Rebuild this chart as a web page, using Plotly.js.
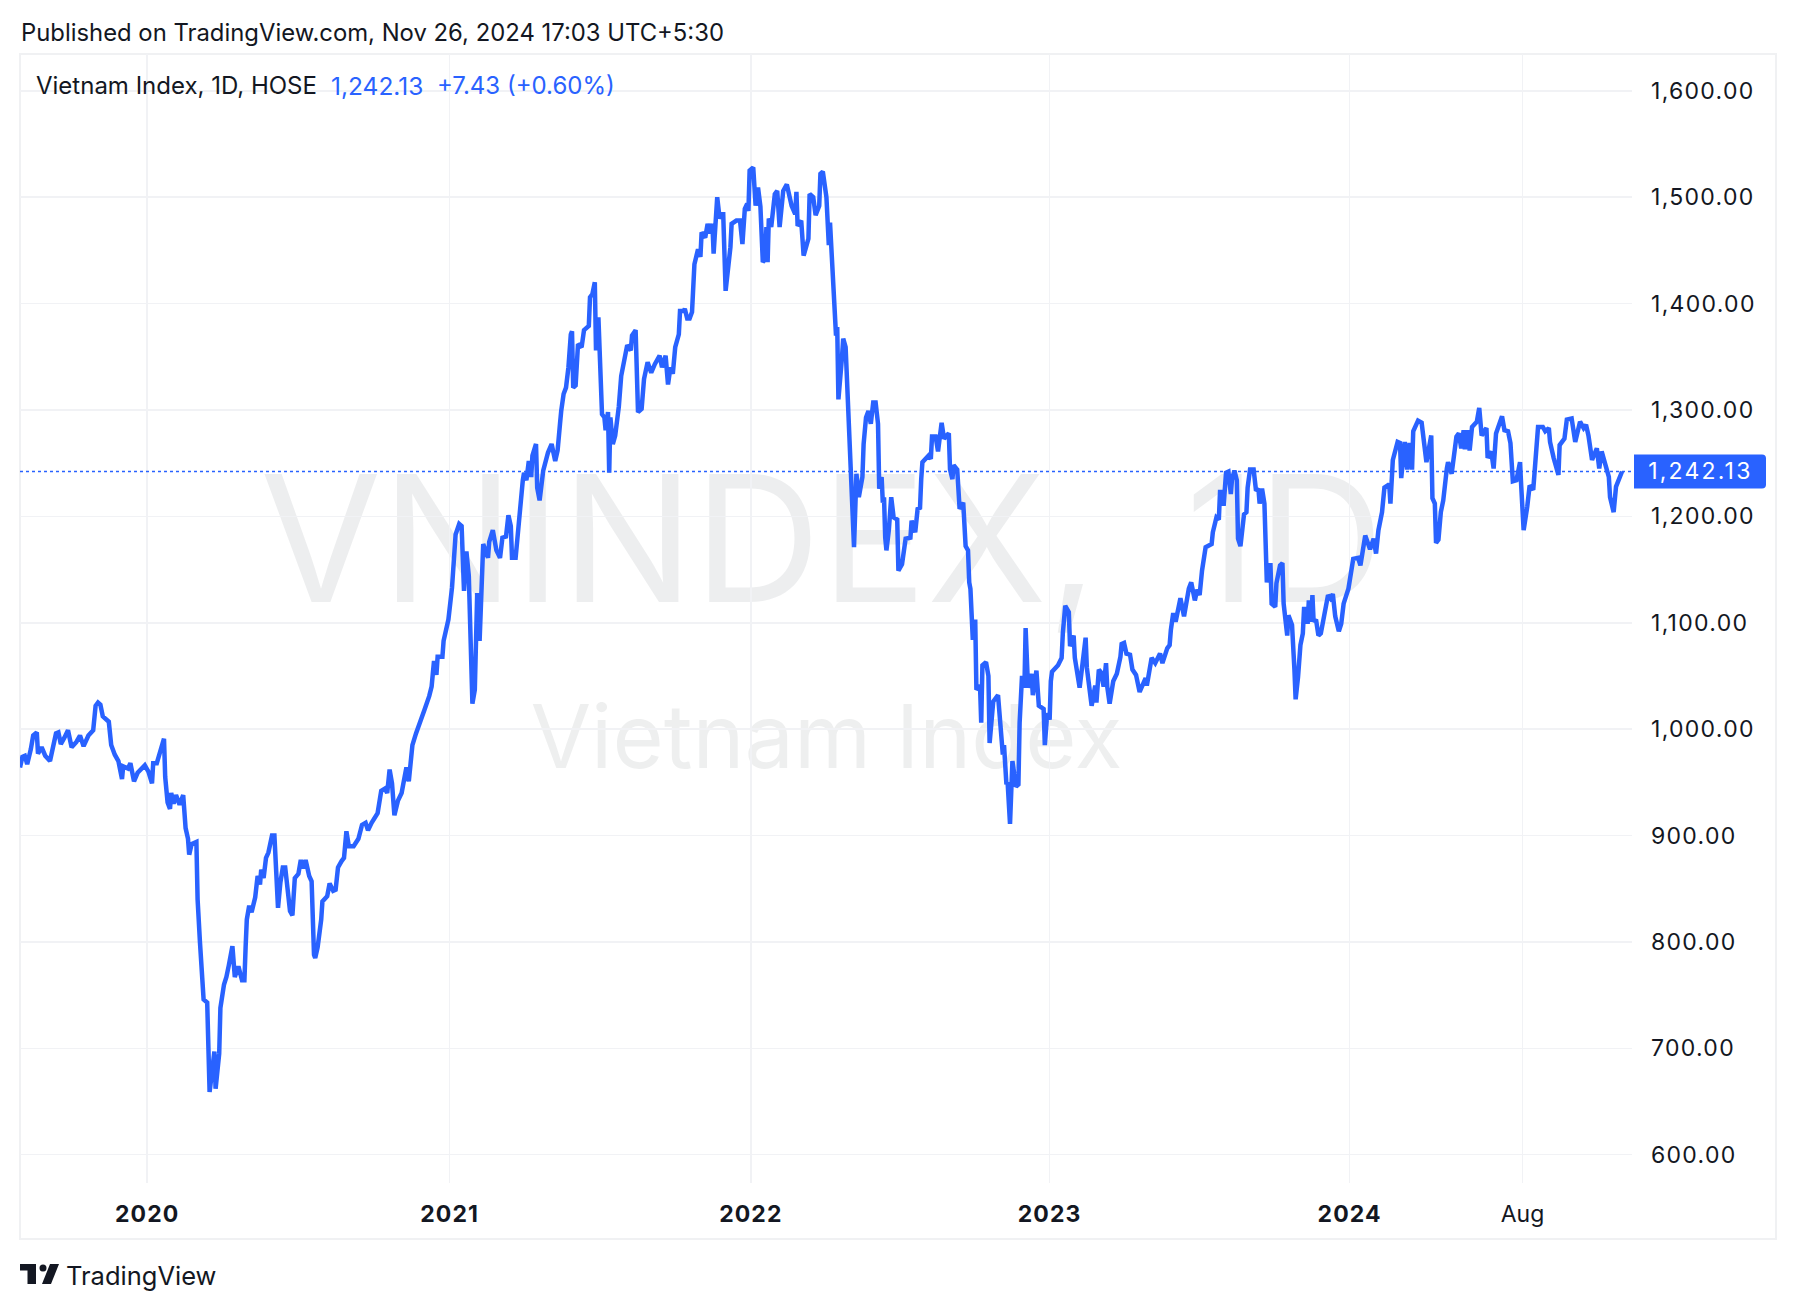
<!DOCTYPE html>
<html>
<head>
<meta charset="utf-8">
<script src="https://cdn.plot.ly/plotly-3.0.0.min.js"></script>
<style>
html,body{margin:0;padding:0;background:#fff}
#chart{width:1796px;height:1310px}
.ytick text{letter-spacing:1.3px}
.xtick tspan{letter-spacing:1.1px}
.annotation[data-index="4"] text{letter-spacing:2.2px}
</style>
</head>
<body>
<div id="chart"></div>
<script>
// Session number (trading day count from the left edge) and closing value of the Vietnam Index
const sessions2019 = [0,2,4,6,9,11,14,15,18,21,25,27,30,32,34,37,40,43,47,50,53,57,61,63,65,67,69,74,76,79,82,85,86,90,92,95,98,104];
const closes2019 = [964,974,975,967,981,994,997,977,983,975,970,981,996,997,986,992,999,983,988,994,984,994,999,1022,1025,1023,1012,1007,985,976,970,953,965,963,968,951,959,966];
const sessions2020 = [
107,110,111,114,116,118,120,121,123,125,
126,128,130,133,136,138,140,141,143,147,
148,150,152,153,156,157,158,162,163,166,
167,170,172,174,177,179,182,185,187,188,
189,191,193,196,198,200,201,203,205,207,
210,212,214,215,217,219,221,223,225,227,
229,232,234,236,238,241,243,245,246,248,
251,252,256,258,261,263,265,268,270,272,
274,278,282,285,288,290,293,298,301,304,
306,308,310,312,315,318,320,322,324,326,
327,330,332,334,337,341,343,345,347,348,
352,353,356,357];
const closes2020 = [
960,949,968,968,977,983,991,955,931,925,
940,930,938,929,938,907,897,882,892,894,
840,799,758,746,743,702,659,697,662,695,
738,760,767,778,796,767,777,764,764,795,
821,834,828,842,862,854,868,860,879,884,
900,900,862,832,856,870,870,849,829,825,
860,864,877,869,877,862,857,788,785,795,
821,838,843,855,848,849,870,876,879,904,
890,890,897,910,912,905,912,921,942,944,
940,962,949,919,933,940,951,964,951,973,
985,996,1003,1009,1018,1031,1040,1064,1051,1068,
1068,1083,1098,1103];
const sessions2021 = [
360,361,363,366,368,370,372,374,375,377,
379,380,381,383,385,386,390,391,394,397,
400,402,405,407,409,410,413,415,417,419,
420,422,424,426,427,430,431,433,436,438,
440,443,446,448,449,450,451,453,455,456,
457,459,460,461,463,465,468,470,474,475,
477,479,480,482,483,485,487,488,490,491,
492,494,496,499,501,503,506,509,510,513,
515,518,520,523,526,529,533,535,538,540,
542,544,546,549,550,553,554,556,558,560,
562,565,567,568,571,573,575,577,578,581,
583,585,586,588,592,593,597,600,602,604,
606,607];
const closes2021 = [
1133,1157,1183,1193,1191,1130,1167,1144,1092,1024,
1037,1111,1128,1083,1148,1174,1161,1176,1187,1168,
1161,1180,1181,1201,1191,1161,1161,1187,1218,1234,
1241,1234,1252,1237,1257,1268,1227,1215,1243,1254,
1260,1268,1252,1262,1281,1287,1299,1315,1321,1329,
1340,1371,1374,1321,1323,1362,1359,1375,1379,1406,
1409,1420,1356,1387,1356,1296,1293,1281,1298,1241,
1293,1268,1276,1303,1332,1343,1361,1356,1370,1375,
1298,1301,1329,1345,1335,1343,1351,1340,1351,1324,
1340,1334,1359,1371,1393,1393,1395,1386,1386,1392,
1437,1451,1444,1467,1462,1475,1466,1475,1447,1500,
1480,1484,1484,1412,1453,1475,1478,1478,1456,1489,
1494,1487];
const sessions2022 = [
608,611,613,615,617,619,621,622,623,624,
626,629,631,633,636,639,643,646,647,648,
651,653,657,658,661,663,666,667,669,672,
674,675,677,679,680,681,682,685,686,688,
690,691,692,693,695,697,699,702,703,705,
707,709,711,713,715,716,718,719,720,721,
722,724,726,728,731,732,735,738,742,743,
746,748,750,751,752,757,759,760,763,765,
768,770,774,775,777,778,781,783,786,788,
790,791,792,794,796,797,800,801,802,805,
807,808,811,815,819,820,822,823,825,827,
830,832,833,835,837,838,840,843,844,847,
849,853,854,856];
const closes2022 = [
1525,1528,1492,1509,1491,1439,1442,1472,1439,1480,
1472,1503,1506,1472,1506,1512,1492,1484,1505,1473,
1478,1445,1461,1503,1500,1483,1492,1522,1524,1500,
1455,1476,1437,1400,1370,1378,1310,1350,1367,1359,
1303,1270,1268,1240,1171,1240,1218,1237,1268,1293,
1299,1287,1307,1307,1287,1226,1237,1213,1218,1180,
1168,1187,1218,1199,1197,1149,1155,1179,1180,1196,
1185,1207,1208,1235,1251,1257,1254,1275,1275,1261,
1288,1273,1278,1244,1235,1248,1244,1207,1213,1172,
1168,1138,1132,1084,1103,1037,1041,1006,1060,1063,
1050,987,1026,1032,976,985,948,950,911,970,
946,948,1006,1050,1039,1095,1039,1052,1032,1055,
1022,1019,985,1015];
const sessions2023 = [
858,859,860,865,868,869,871,874,875,878,
879,883,888,889,893,896,897,899,901,903,
905,906,908,911,914,917,918,920,922,925,
927,930,933,938,939,943,946,950,952,956,
958,959,961,963,967,970,974,976,979,981,
983,985,988,993,994,997,999,1000,1001,1003,
1005,1007,1009,1010,1012,1014,1015,1017,1020,1022,
1023,1025,1028,1030,1032,1033,1035,1037,1038,1039,
1042,1043,1046,1047,1050,1052,1053,1056,1057,1060,
1062,1063,1065,1067,1069,1070,1072,1073,1074,1076,
1077,1078,1080,1082,1084,1086,1088,1090,1092,1094,
1096,1099,1101,1103,1107];
const closes2023 = [
1009,1045,1054,1060,1067,1090,1116,1110,1078,1088,
1067,1039,1086,1058,1022,1041,1025,1056,1053,1040,
1062,1040,1024,1045,1052,1068,1080,1081,1071,1070,
1056,1051,1035,1048,1041,1067,1062,1071,1062,1076,
1079,1093,1109,1101,1123,1106,1132,1138,1121,1131,
1126,1149,1171,1174,1185,1199,1197,1223,1223,1210,
1241,1242,1221,1235,1243,1234,1179,1172,1202,1204,
1227,1244,1244,1224,1226,1212,1226,1212,1165,1138,
1156,1118,1115,1137,1154,1156,1118,1088,1107,1098,
1056,1028,1049,1079,1090,1113,1113,1099,1121,1101,
1126,1101,1103,1088,1090,1102,1115,1126,1123,1127,
1106,1092,1099,1118,1132];
const sessions2024 = [
1110,1111,1115,1117,1121,1125,1128,1130,1132,1135,
1137,1141,1142,1144,1148,1150,1151,1154,1156,1158,
1160,1161,1165,1168,1172,1174,1176,1177,1179,1180,
1182,1184,1186,1189,1190,1193,1197,1199,1201,1203,
1204,1206,1208,1210,1214,1216,1218,1222,1223,1226,
1228,1230,1235,1237,1240,1242,1244,1247,1250,1251,
1253,1256,1258,1261,1264,1265,1269,1271,1274,1275,
1278,1282,1283,1287,1289,1293,1296,1300,1303,1305,
1307,1310,1314,1316,1318,1321,1324,1325,1328,1330,1335];
const closes2024 = [
1150,1160,1161,1154,1182,1169,1179,1165,1187,1204,
1227,1230,1212,1253,1270,1269,1236,1270,1244,1269,
1244,1280,1290,1288,1251,1262,1276,1217,1212,1175,
1178,1204,1215,1245,1251,1240,1275,1278,1264,1281,
1263,1281,1262,1284,1289,1302,1276,1283,1255,1261,
1245,1278,1294,1281,1280,1269,1233,1234,1251,1228,
1187,1209,1229,1225,1281,1284,1284,1280,1283,1270,
1255,1239,1267,1273,1291,1292,1270,1289,1283,1286,
1276,1253,1264,1245,1261,1248,1237,1218,1204,1228,1242.13];

const tickSessions = [106,358,609,858,1108,1252];
const tickLabels = ['<b>2020</b>','<b>2021</b>','<b>2022</b>','<b>2023</b>','<b>2024</b>','Aug'];
const priceTicks = [600,700,800,900,1000,1100,1200,1300,1400,1500,1600];
const lastClose = 1242.13;
const lastCloseLabel = '1,242.13';
const changeLabel = '+7.43 (+0.60%)';

const sessions = [].concat(sessions2019,sessions2020,sessions2021,sessions2022,sessions2023,sessions2024);
const closes = [].concat(closes2019,closes2020,closes2021,closes2022,closes2023,closes2024);

const FONT = 'Inter, "Noto Sans", sans-serif';
const INK = '#131722', BLUE = '#2962ff', GRID = '#f1f2f5', FRAME = '#f0f1f3';
const L = 20, R = 1632, T = 54, B = 1183;
const px = v => (v - L) / (R - L);
const py = v => 1 - (v - T) / (B - T);

function note(text, x, y, size, color, anchor) {
  return {text, xref:'paper', yref:'paper', x:px(x), y:py(y), xanchor:anchor||'left', yanchor:'middle',
          showarrow:false, font:{family:FONT, size, color}};
}
function pathShape(d, color) {
  return {type:'path', xref:'paper', yref:'paper', path:d, fillcolor:color, line:{width:0}, layer:'above'};
}
function P(points) { return 'M' + points.map(p => px(p[0]) + ',' + py(p[1])).join('L') + 'Z'; }
function watermark(text, x0, x1, y0, y1, size, alpha) {
  return {type:'rect', xref:'paper', yref:'paper', x0:px(x0), x1:px(x1), y0:py(y1), y1:py(y0), layer:'below',
          line:{width:0}, fillcolor:'rgba(0,0,0,0)',
          label:{text, textposition:'middle center', font:{family:FONT, size, color:'rgba(19,23,34,'+alpha+')'}}};
}

const data = [{
  x: sessions, y: closes, type:'scatter', mode:'lines',
  line:{color:BLUE, width:4.5, shape:'linear'}, hoverinfo:'skip'
}];

const layout = {
  width:1796, height:1310, paper_bgcolor:'#fff', plot_bgcolor:'rgba(0,0,0,0)', showlegend:false,
  margin:{l:L, r:1796-R, t:T, b:1310-B, pad:0},
  font:{family:FONT, color:INK},
  xaxis:{range:[0,1343.3], tickmode:'array', tickvals:tickSessions, ticktext:tickLabels,
         showgrid:true, gridcolor:GRID, gridwidth:1.5, zeroline:false, showline:false, ticks:'',
         ticklabelstandoff:15, tickfont:{family:FONT, size:23, color:INK}, tickangle:0},
  yaxis:{range:[573.4,1634.6], side:'right', tickmode:'array', tickvals:priceTicks, tickformat:',.2f',
         showgrid:true, gridcolor:GRID, gridwidth:1.5, zeroline:false, showline:false, ticks:'',
         ticklabelstandoff:18, tickfont:{family:FONT, size:23, color:INK}},
  shapes:[
    watermark('VNINDEX,\u2002 1D'.replace(' ',''), 269, 1375, 464, 600, 176, 0.075),
    watermark('Vietnam Index', 533, 1120, 699, 766, 88, 0.07),
    {type:'rect', xref:'paper', yref:'paper', x0:px(20), x1:px(1776), y0:py(1239), y1:py(54), layer:'below',
     line:{color:FRAME, width:2}, fillcolor:'rgba(0,0,0,0)'},
    {type:'line', xref:'paper', yref:'y', x0:0, x1:1, y0:lastClose, y1:lastClose, layer:'above',
     line:{color:BLUE, width:1.6, dash:'dot'}},
    {type:'path', xref:'paper', yref:'y', xsizemode:'pixel', ysizemode:'pixel', xanchor:1, yanchor:lastClose, layer:'above',
     path:'M2,-17 L130,-17 Q134,-17 134,-13 L134,13 Q134,17 130,17 L2,17 Z', fillcolor:BLUE, line:{width:0}},
    pathShape(P([[20,1264],[36,1264],[36,1284],[27.5,1284],[27.5,1270.5],[20,1270.5]]), INK),
    pathShape(P([[50,1264],[59,1264],[51,1284],[42,1284]]), INK),
    {type:'circle', xref:'paper', yref:'paper', x0:px(39.5), x1:px(46.5), y0:py(1271.5), y1:py(1264.5),
     fillcolor:INK, line:{width:0}}
  ],
  annotations:[
    note('Published on TradingView.com, Nov 26, 2024 17:03 UTC+5:30', 18.5, 32, 23.85, INK),
    note('Vietnam Index, 1D, HOSE', 33.7, 86, 24, INK),
    note(lastCloseLabel, 328.7, 86, 24.5, BLUE),
    note(changeLabel, 435, 86, 24, BLUE),
    note(lastCloseLabel, 1655, 471.5, 23, '#ffffff'),
    note('TradingView', 64, 1276, 25.5, INK)
  ]
};

Plotly.newPlot('chart', data, layout, {displayModeBar:false, staticPlot:true});
</script>
</body>
</html>
